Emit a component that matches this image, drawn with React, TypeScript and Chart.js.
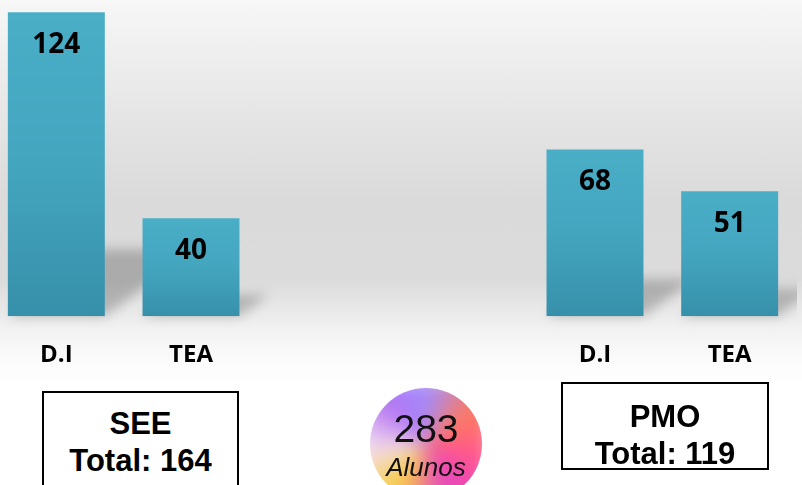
import React, { useEffect, useRef } from "react";
import { Chart, registerables } from "chart.js";

Chart.register(...registerables);

const categories = ["D.I", "TEA", "", "", "D.I", "TEA"];
const values: (number | null)[] = [124, 40, null, null, 68, 51];
const groupNames = ["SEE", "PMO"];
const groupTotals = [164, 119];
const grandTotal = 283;
const totalLabel = "Alunos";

const shadowPlugin = {
  id: "barShadow",
  beforeDatasetsDraw(chart: any) {
    const ctx = chart.ctx;
    const meta = chart.getDatasetMeta(0);
    ctx.save();
    ctx.filter = "blur(6px)";
    ctx.fillStyle = "rgba(0,0,0,0.22)";
    meta.data.forEach((bar: any, i: number) => {
      if (values[i] == null) return;
      const h = bar.base - bar.y;
      const l = bar.x - bar.width / 2;
      const r = bar.x + bar.width / 2;
      const dx = h * 0.3;
      const dy = h * 0.22;
      ctx.beginPath();
      ctx.moveTo(l, bar.base);
      ctx.lineTo(r, bar.base);
      ctx.lineTo(r + dx, bar.base - dy);
      ctx.lineTo(l + dx, bar.base - dy);
      ctx.closePath();
      ctx.fill();
    });
    ctx.restore();
  },
};

const valueLabelPlugin = {
  id: "valueLabels",
  afterDatasetsDraw(chart: any) {
    const ctx = chart.ctx;
    const meta = chart.getDatasetMeta(0);
    ctx.save();
    ctx.font = "bold 28px 'Open Sans', sans-serif";
    ctx.fillStyle = "#000";
    ctx.textAlign = "center";
    ctx.textBaseline = "middle";
    meta.data.forEach((bar: any, i: number) => {
      const v = values[i];
      if (v == null) return;
      ctx.fillText(String(v), bar.x, bar.y + 33);
    });
    ctx.restore();
  },
};

export default function App() {
  const ref = useRef<HTMLCanvasElement>(null);

  useEffect(() => {
    if (!ref.current) return;
    const chart = new Chart(ref.current, {
      type: "bar",
      data: {
        labels: categories,
        datasets: [
          {
            data: values,
            backgroundColor: (c: any) => {
              const y = c.chart.scales?.y;
              if (!y || c.type !== "data" || c.raw == null) return "#44a6bf";
              const top = y.getPixelForValue(c.raw);
              const base = y.getPixelForValue(0);
              if (!isFinite(top) || !isFinite(base) || top === base) return "#44a6bf";
              const g = c.chart.ctx.createLinearGradient(0, top, 0, base);
              g.addColorStop(0, "#4aaec7");
              g.addColorStop(0.5, "#44a5bf");
              g.addColorStop(1, "#3790aa");
              return g;
            },
            borderWidth: 0,
            barPercentage: 0.9,
            categoryPercentage: 0.8,
          },
        ],
      },
      options: {
        responsive: false,
        animation: false,
        devicePixelRatio: 1,
        layout: { padding: 0 },
        plugins: { legend: { display: false }, tooltip: { enabled: false } },
        scales: {
          x: {
            grid: { display: false, drawTicks: false },
            border: { display: false },
            ticks: {
              color: "#000",
              padding: 25,
              maxRotation: 0,
              autoSkip: false,
              font: { family: "'Open Sans', sans-serif", size: 24, weight: "bold" },
            },
          },
          y: { display: false, min: 0, max: 129 },
        },
      },
      plugins: [shadowPlugin, valueLabelPlugin],
    });
    return () => chart.destroy();
  }, []);

  const boxStyle: React.CSSProperties = {
    position: "absolute",
    border: "2px solid #000",
    background: "#fff",
    boxSizing: "border-box",
    fontFamily: "'Liberation Sans', Arial, sans-serif",
    fontWeight: "bold",
    fontSize: 31,
    color: "#000",
    textAlign: "center",
    lineHeight: "37px",
  };

  return (
    <div
      style={{
        position: "absolute",
        left: 0,
        top: 0,
        width: 802,
        height: 485,
        overflow: "hidden",
        background:
          "linear-gradient(to bottom, #f7f7f7 0px, #e6e6e6 110px, #dadada 200px, #dbdbdb 280px, #f2f2f2 330px, #fbfbfb 360px, #ffffff 385px, #ffffff 485px)",
      }}
    >
      <canvas
        ref={ref}
        width={808}
        height={395}
        style={{ position: "absolute", left: -11, top: 0, width: 808, height: 395 }}
      />
      <div style={{ ...boxStyle, left: 42, top: 391, width: 197, height: 110, paddingTop: 12 }}>
        <div>{groupNames[0]}</div>
        <div>Total: {groupTotals[0]}</div>
      </div>
      <div style={{ ...boxStyle, left: 561, top: 382, width: 208, height: 88, paddingTop: 14 }}>
        <div>{groupNames[1]}</div>
        <div>Total: {groupTotals[1]}</div>
      </div>
      <div
        style={{
          position: "absolute",
          left: 370,
          top: 388,
          width: 112,
          height: 112,
          borderRadius: "50%",
          overflow: "hidden",
        }}
      >
        <div
          style={{
            position: "absolute",
            inset: -10,
            background:
              "conic-gradient(from 0deg, #a08cff 0deg, #ff7a5c 55deg, #ff5590 105deg, #e444c4 155deg, #f8d040 215deg, #f3dcef 265deg, #b574f2 315deg, #a08cff 360deg)",
            filter: "blur(10px)",
          }}
        />
        <div
          style={{
            position: "absolute",
            left: 0,
            right: 0,
            top: 19,
            textAlign: "center",
            fontFamily: "'Liberation Sans', Arial, sans-serif",
            fontSize: 39,
            lineHeight: "44px",
            color: "#111",
          }}
        >
          {grandTotal}
        </div>
        <div
          style={{
            position: "absolute",
            left: 0,
            right: 0,
            top: 64,
            textAlign: "center",
            fontFamily: "'Liberation Sans', Arial, sans-serif",
            fontStyle: "italic",
            fontSize: 26,
            lineHeight: "30px",
            color: "#111",
          }}
        >
          {totalLabel}
        </div>
      </div>
    </div>
  );
}
